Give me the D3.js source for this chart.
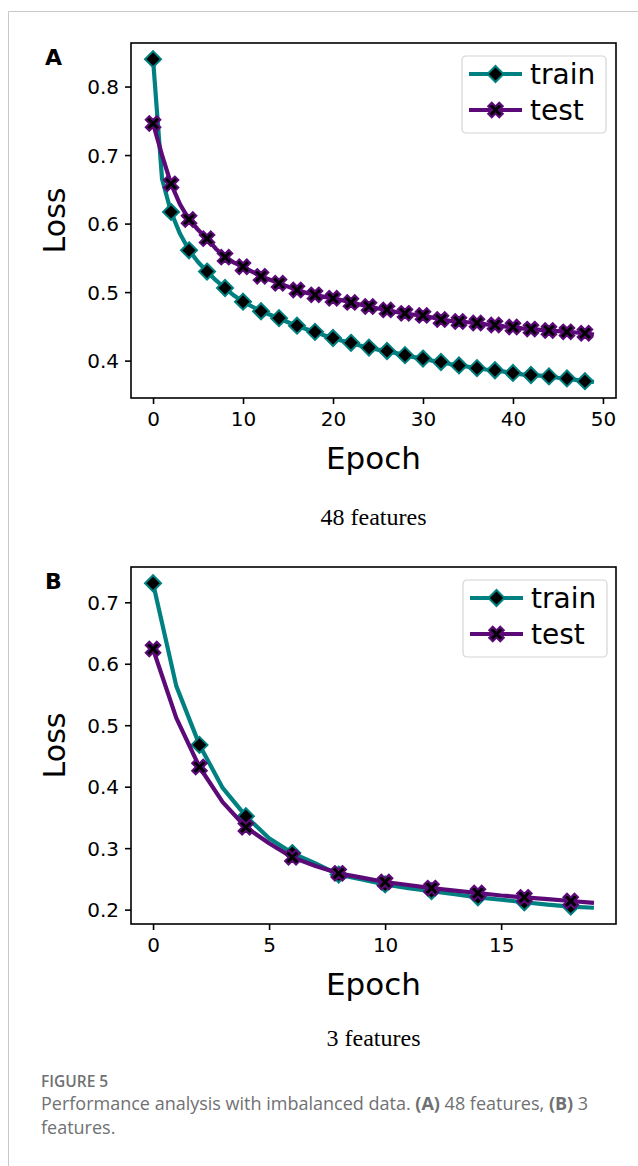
<!DOCTYPE html>
<html>
<head>
<meta charset="utf-8">
<script src="https://cdn.jsdelivr.net/npm/d3@7"></script>
<style>
  html, body { margin: 0; padding: 0; background: #fff; }
  svg { display: block; }
</style>
</head>
<body>
<svg id="chart" width="638" height="1166"></svg>
<script>
// ---------- DATA ----------
const epochsA = d3.range(0, 50);
const trainA = [0.840, 0.665, 0.617, 0.585, 0.561, 0.544, 0.530, 0.517, 0.506, 0.495,
                0.486, 0.479, 0.472, 0.467, 0.462, 0.456, 0.451, 0.446, 0.442, 0.437,
                0.433, 0.429, 0.426, 0.422, 0.419, 0.416, 0.414, 0.411, 0.408, 0.405,
                0.403, 0.400, 0.398, 0.395, 0.393, 0.391, 0.389, 0.387, 0.386, 0.384,
                0.382, 0.380, 0.379, 0.378, 0.377, 0.375, 0.374, 0.372, 0.370, 0.369];
const testA  = [0.746, 0.700, 0.658, 0.628, 0.606, 0.591, 0.578, 0.563, 0.551, 0.543,
                0.537, 0.530, 0.523, 0.518, 0.513, 0.508, 0.503, 0.499, 0.496, 0.493,
                0.491, 0.488, 0.485, 0.482, 0.479, 0.476, 0.474, 0.471, 0.469, 0.467,
                0.466, 0.463, 0.460, 0.458, 0.457, 0.456, 0.455, 0.453, 0.452, 0.450,
                0.449, 0.447, 0.446, 0.445, 0.444, 0.443, 0.442, 0.441, 0.440, 0.438];
const epochsB = d3.range(0, 20);
const trainB = [0.731, 0.564, 0.468, 0.398, 0.352, 0.316, 0.292, 0.275, 0.257, 0.249,
                0.241, 0.235, 0.230, 0.225, 0.220, 0.216, 0.212, 0.208, 0.205, 0.203];
const testB  = [0.624, 0.512, 0.432, 0.375, 0.334, 0.308, 0.285, 0.271, 0.259, 0.252,
                0.245, 0.240, 0.235, 0.231, 0.227, 0.223, 0.220, 0.217, 0.214, 0.211];
const xTicksA = [0, 10, 20, 30, 40, 50];
const yTicksA = [0.4, 0.5, 0.6, 0.7, 0.8];
const xTicksB = [0, 5, 10, 15];
const yTicksB = [0.2, 0.3, 0.4, 0.5, 0.6, 0.7];
const seriesNames = ["train", "test"];
const panelLabels = ["A", "B"];
const subCaptions = ["48 features", "3 features"];
const yLabel = "Loss";
const xLabel = "Epoch";

// ---------- STYLE ----------
const TEAL = "#008080";
const PURPLE = "#5c0a78";
const svg = d3.select("#chart");

// outer figure frame (light gray)
svg.append("line").attr("x1", 8.5).attr("x2", 638).attr("y1", 11.5).attr("y2", 11.5)
   .attr("stroke", "#c8c8c8").attr("stroke-width", 1);
svg.append("line").attr("x1", 8.5).attr("x2", 8.5).attr("y1", 11.5).attr("y2", 1166)
   .attr("stroke", "#c8c8c8").attr("stroke-width", 1);

const diamondPath = (r) => `M0,${-r}L${r},0L0,${r}L${-r},0Z`;
function xPath(L, a) {
  const pts = [[-a, -L], [a, -L], [a, -a], [L, -a], [L, a], [a, a], [a, L], [-a, L], [-a, a], [-L, a], [-L, -a], [-a, -a]];
  const c = Math.SQRT1_2;
  return "M" + pts.map(([x, y]) => [(x - y) * c, (x + y) * c].map(v => v.toFixed(2)).join(",")).join("L") + "Z";
}
const DIAMOND = diamondPath(8);
const XMARK = xPath(7.8, 2.5);

function drawPanel(cfg) {
  const { left, right, top, bottom, epochs, train, test, xTicks, yTicks, label, sub, leg, captionY } = cfg;
  const g = svg.append("g");
  const allY = train.concat(test);
  const yMin = d3.min(allY), yMax = d3.max(allY);
  const yPad = (yMax - yMin) * 0.05;
  const xMin = d3.min(epochs), xMax = d3.max(epochs);
  const xPad = (xMax - xMin) * 0.05;
  const x = d3.scaleLinear().domain([xMin - xPad, xMax + xPad]).range([left, right]);
  const y = d3.scaleLinear().domain([yMin - yPad, yMax + yPad]).range([bottom, top]);

  const line = d3.line().x((d, i) => x(epochs[i])).y(d => y(d));

  const series = [
    { vals: train, color: TEAL, marker: DIAMOND },
    { vals: test, color: PURPLE, marker: XMARK }
  ];
  series.forEach(s => {
    g.append("path").attr("d", line(s.vals)).attr("fill", "none")
      .attr("stroke", s.color).attr("stroke-width", 4.2)
      .attr("stroke-linejoin", "round").attr("stroke-linecap", "butt");
    g.selectAll(null).data(s.vals.map((v, i) => [epochs[i], v]).filter(d => d[0] % 2 === 0))
      .enter().append("path")
      .attr("d", s.marker)
      .attr("transform", d => `translate(${x(d[0])},${y(d[1])})`)
      .attr("fill", "#000").attr("stroke", s.color).attr("stroke-width", 2)
      .attr("stroke-linejoin", "miter");
  });

  // frame
  g.append("rect").attr("x", left).attr("y", top).attr("width", right - left).attr("height", bottom - top)
    .attr("fill", "none").attr("stroke", "#000").attr("stroke-width", 1.6);

  // axes
  const xAxis = d3.axisBottom(x).tickValues(xTicks).tickSize(6).tickPadding(6).tickFormat(d3.format("d"));
  const yAxis = d3.axisLeft(y).tickValues(yTicks).tickSize(6).tickPadding(6).tickFormat(d3.format(".1f"));
  const gx = g.append("g").attr("transform", `translate(0,${bottom})`).call(xAxis);
  const gy = g.append("g").attr("transform", `translate(${left},0)`).call(yAxis);
  [gx, gy].forEach(a => {
    a.select(".domain").remove();
    a.selectAll(".tick line").attr("stroke", "#000").attr("stroke-width", 1.6);
    a.selectAll(".tick text").attr("fill", "#000")
      .style("font-family", "'DejaVu Sans', sans-serif").style("font-size", "20px");
  });
  gx.selectAll(".tick text").attr("dy", "0.78em");
  gy.selectAll(".tick text").attr("dy", "0.36em");

  // axis labels
  g.append("text").attr("x", (left + right) / 2).attr("y", bottom + 71)
    .attr("text-anchor", "middle").style("font-family", "'DejaVu Sans', sans-serif")
    .style("font-size", "31px").attr("fill", "#000").text(xLabel);
  g.append("text").attr("transform", `translate(${left - 66},${(top + bottom) / 2}) rotate(-90)`)
    .attr("text-anchor", "middle").style("font-family", "'DejaVu Sans', sans-serif")
    .style("font-size", "30px").attr("fill", "#000").text(yLabel);

  // panel label
  g.append("text").attr("x", 45).attr("y", top + 22)
    .style("font-family", "'DejaVu Sans', sans-serif").style("font-weight", "bold")
    .style("font-size", "22px").attr("fill", "#000").text(label);

  // sub caption
  g.append("text").attr("x", (left + right) / 2).attr("y", captionY)
    .attr("text-anchor", "middle").style("font-family", "'Liberation Serif', 'Times New Roman', serif")
    .style("font-size", "24px").attr("fill", "#000").text(sub);

  // legend
  const lg = g.append("g").attr("transform", `translate(${leg.x},${leg.y})`);
  lg.append("rect").attr("x", 0).attr("y", 0).attr("width", 144).attr("height", 77)
    .attr("rx", 4).attr("fill", "#fff").attr("fill-opacity", 0.8)
    .attr("stroke", "#d4d4d4").attr("stroke-width", 1.2);
  series.forEach((s, i) => {
    const cy = 18 + i * 36;
    lg.append("line").attr("x1", 7).attr("x2", 60).attr("y1", cy).attr("y2", cy)
      .attr("stroke", s.color).attr("stroke-width", 4.2);
    lg.append("path").attr("d", s.marker).attr("transform", `translate(33.5,${cy})`)
      .attr("fill", "#000").attr("stroke", s.color).attr("stroke-width", 2);
    lg.append("text").attr("x", 68).attr("y", cy).attr("dy", "0.36em")
      .style("font-family", "'DejaVu Sans', sans-serif").style("font-size", "28px")
      .attr("fill", "#000").text(seriesNames[i]);
  });
}

drawPanel({ left: 131, right: 616, top: 43, bottom: 398, epochs: epochsA, train: trainA, test: testA,
  xTicks: xTicksA, yTicks: yTicksA, label: panelLabels[0], sub: subCaptions[0],
  leg: { x: 462, y: 56 }, captionY: 525 });
drawPanel({ left: 131, right: 616, top: 567, bottom: 924, epochs: epochsB, train: trainB, test: testB,
  xTicks: xTicksB, yTicks: yTicksB, label: panelLabels[1], sub: subCaptions[1],
  leg: { x: 463, y: 580 }, captionY: 1046 });

// figure caption
const cap = svg.append("g").style("font-family", "'Open Sans', sans-serif").attr("fill", "#707173");
cap.append("text").attr("x", 41).attr("y", 1087).style("font-size", "15.5px").style("font-weight", "600").text("FIGURE 5");
const t1 = cap.append("text").attr("x", 41).attr("y", 1110).style("font-size", "18px");
t1.append("tspan").text("Performance analysis with imbalanced data. ");
t1.append("tspan").style("font-weight", "bold").text("(A)");
t1.append("tspan").text(" 48 features, ");
t1.append("tspan").style("font-weight", "bold").text("(B)");
t1.append("tspan").text(" 3");
cap.append("text").attr("x", 41).attr("y", 1134).style("font-size", "18px").text("features.");
</script>
</body>
</html>
